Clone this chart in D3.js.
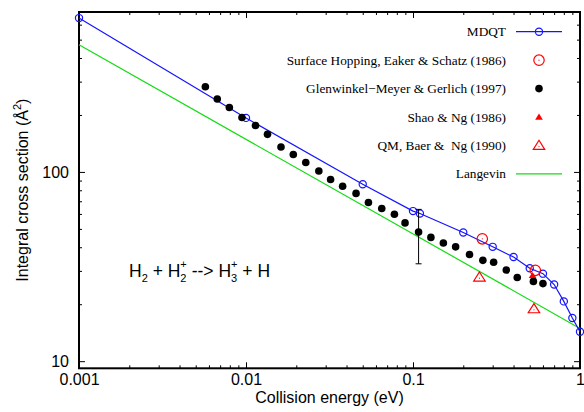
<!DOCTYPE html>
<html>
<head>
<meta charset="utf-8">
<script src="https://cdn.jsdelivr.net/npm/d3@7"></script>
<style>
  html, body { margin: 0; padding: 0; background: #fff; }
  svg { display: block; }
</style>
</head>
<body>
<svg id="chart" width="584" height="412"></svg>
<script>
// ---------- data ----------
const mdqtE     = [0.001, 0.01, 0.05, 0.1, 0.11, 0.2, 0.3, 0.4, 0.5, 0.6, 0.7, 0.8, 0.9, 1.0];
const mdqtSigma = [650, 193, 86.1, 62.1, 60.3, 47.9, 40.2, 35.5, 31.0, 29.0, 25.4, 20.7, 16.9, 14.3];

const shE     = [0.26, 0.54];
const shSigma = [44.3, 30.2];

const gmgE     = [0.00571, 0.00673, 0.00795, 0.00946, 0.0114, 0.01345, 0.0162, 0.0192, 0.0228, 0.0273,
                  0.0321, 0.0379, 0.0456, 0.0541, 0.0650, 0.0774, 0.0896, 0.108, 0.128, 0.152,
                  0.180, 0.218, 0.262, 0.304, 0.362, 0.421, 0.526, 0.600];
const gmgSigma = [282, 243, 219, 194, 176, 158, 135.5, 123.7, 112.2, 101.2,
                  91.2, 84.0, 77.0, 69.0, 64.1, 59.8, 53.8, 48.1, 45.1, 42.1,
                  40.2, 36.6, 34.1, 33.3, 30.3, 27.7, 26.4, 25.7];
// error bar on one Glenwinkel-Meyer point
const gmgErrE = [0.108];
const gmgErrLow = [32.7];
const gmgErrHigh = [63.4];

const shaoE     = [0.52];
const shaoSigma = [28.4];

const qmE     = [0.25, 0.53];
const qmSigma = [27.8, 18.9];

const langevinE     = [0.001, 1.0];
const langevinSigma = [470, 14.9];

const xDomain = [0.001, 1];
const yDomain = [9.17, 700];
const xMajorTicks = [0.001, 0.01, 0.1, 1];
const xTickLabels = ["0.001", "0.01", "0.1", "1"];
const yMajorTicks = [10, 100];
const yTickLabels = ["10", "100"];

const legendLabels = ["MDQT", "Surface Hopping, Eaker & Schatz (1986)", "Glenwinkel\u2212Meyer & Gerlich (1997)",
                      "Shao & Ng (1986)", "QM, Baer &  Ng (1990)", "Langevin"];

// ---------- layout ----------
const L = 79, R = 580, T = 12, B = 368.3;
const svg = d3.select("#chart");
const x = d3.scaleLog().domain(xDomain).range([L, R]);
const y = d3.scaleLog().domain(yDomain).range([B, T]);

const BLUE = "#1414ff", GREEN = "#14dc14", RED = "#ff0000";
const sans = "'Liberation Sans', Arial, Helvetica, sans-serif";
const serif = "'Liberation Serif', 'Times New Roman', serif";

// minor ticks
const xMinor = [];
for (let d = 0.001; d < 1; d *= 10) for (let k = 2; k <= 9; k++) xMinor.push(+(d * k).toPrecision(3));
const yMinor = [];
for (let d = 10; d < 1000; d *= 10) for (let k = 2; k <= 9; k++) { const v = d * k; if (v <= yDomain[1]) yMinor.push(v); }

function styleAxis(g) {
  g.select(".domain").remove();
  g.selectAll(".tick line").attr("stroke", "#000").attr("stroke-width", 1);
  g.selectAll("text").attr("font-family", sans).attr("font-size", 16).attr("fill", "#000");
}

const MAJ = 6, MIN = 3;
svg.append("g").attr("transform", `translate(0,${B})`)
  .call(d3.axisBottom(x).tickValues(xMajorTicks).tickFormat((d, i) => xTickLabels[i]).tickSize(-MAJ).tickPadding(5))
  .call(styleAxis);
svg.append("g").attr("transform", `translate(0,${B})`)
  .call(d3.axisBottom(x).tickValues(xMinor).tickFormat("").tickSize(-MIN)).call(styleAxis);
svg.append("g").attr("transform", `translate(0,${T})`)
  .call(d3.axisTop(x).tickValues(xMajorTicks).tickFormat("").tickSize(-MAJ)).call(styleAxis);
svg.append("g").attr("transform", `translate(0,${T})`)
  .call(d3.axisTop(x).tickValues(xMinor).tickFormat("").tickSize(-MIN)).call(styleAxis);
svg.append("g").attr("transform", `translate(${L},0)`)
  .call(d3.axisLeft(y).tickValues(yMajorTicks).tickFormat((d, i) => yTickLabels[i]).tickSize(-MAJ).tickPadding(10))
  .call(styleAxis);
svg.append("g").attr("transform", `translate(${L},0)`)
  .call(d3.axisLeft(y).tickValues(yMinor).tickFormat("").tickSize(-MIN)).call(styleAxis);
svg.append("g").attr("transform", `translate(${R},0)`)
  .call(d3.axisRight(y).tickValues(yMajorTicks).tickFormat("").tickSize(-MAJ)).call(styleAxis);
svg.append("g").attr("transform", `translate(${R},0)`)
  .call(d3.axisRight(y).tickValues(yMinor).tickFormat("").tickSize(-MIN)).call(styleAxis);

// border
svg.append("rect").attr("x", L).attr("y", T).attr("width", R - L).attr("height", B - T)
  .attr("fill", "none").attr("stroke", "#000").attr("stroke-width", 2);

// axis titles
svg.append("text").attr("x", (L + R) / 2).attr("y", 403).attr("text-anchor", "middle")
  .attr("font-family", sans).attr("font-size", 16).text("Collision energy (eV)");
const yt = svg.append("text").attr("transform", `translate(28,${(T + B) / 2}) rotate(-90)`)
  .attr("text-anchor", "middle").attr("font-family", sans).attr("font-size", 16);
yt.append("tspan").text("Integral cross section (\u00C5");
yt.append("tspan").attr("font-size", 11).attr("dy", -7).text("2");
yt.append("tspan").attr("dy", 7).text(")");

// reaction label: separate pieces so stacked scripts don't collide
const rBase = 277, rFs = 17.5, sFs = 11;
const rg = svg.append("g").attr("font-family", sans).attr("fill", "#000");
let cursor = 129;
function piece(txt, fs, yy) {
  const t = rg.append("text").attr("x", cursor).attr("y", yy).attr("font-size", fs).attr("xml:space", "preserve").text(txt);
  return t.node().getComputedTextLength();
}
function main(txt) { cursor += piece(txt, rFs, rBase); }
function sub(txt) { cursor += piece(txt, sFs, rBase + 5); }
function subsup(sb, sp) {
  const w1 = piece(sp, sFs, rBase - 9.5);
  const w2 = piece(sb, sFs, rBase + 5);
  cursor += Math.max(w1, w2);
}
main("H"); sub("2"); main(" + H"); subsup("2", "+"); main(" --> H"); subsup("3", "+"); main(" + H");

// ---------- series ----------
const line = d3.line().x(d => x(d[0])).y(d => y(d[1]));

svg.append("path").datum(langevinE.map((e, i) => [e, langevinSigma[i]]))
  .attr("d", line).attr("fill", "none").attr("stroke", GREEN).attr("stroke-width", 1.2);

const mdqt = mdqtE.map((e, i) => [e, mdqtSigma[i]]);
svg.append("path").datum(mdqt).attr("d", line).attr("fill", "none").attr("stroke", BLUE).attr("stroke-width", 1.2);
svg.selectAll(".mdqt").data(mdqt).enter().append("circle")
  .attr("cx", d => x(d[0])).attr("cy", d => y(d[1])).attr("r", 3.6)
  .attr("fill", "none").attr("stroke", BLUE).attr("stroke-width", 1.2);

gmgErrE.forEach((e, i) => {
  const cx = x(e), y1 = y(gmgErrLow[i]), y2 = y(gmgErrHigh[i]);
  svg.append("line").attr("x1", cx).attr("x2", cx).attr("y1", y1).attr("y2", y2).attr("stroke", "#000").attr("stroke-width", 1);
  [y1, y2].forEach(yy => svg.append("line").attr("x1", cx - 3).attr("x2", cx + 3).attr("y1", yy).attr("y2", yy).attr("stroke", "#000"));
});

svg.selectAll(".gmg").data(gmgE.map((e, i) => [e, gmgSigma[i]])).enter().append("circle")
  .attr("cx", d => x(d[0])).attr("cy", d => y(d[1])).attr("r", 3.8).attr("fill", "#000");

function shMarker(g, cx, cy) {
  g.append("circle").attr("cx", cx).attr("cy", cy).attr("r", 5.2).attr("fill", "none").attr("stroke", RED).attr("stroke-width", 1.2);
  g.append("circle").attr("cx", cx).attr("cy", cy).attr("r", 0.6).attr("fill", RED);
}
shE.forEach((e, i) => shMarker(svg, x(e), y(shSigma[i])));

const triPath = (cx, cy, s) => `M${cx},${cy - s}L${cx + s * 1.1},${cy + s * 0.75}L${cx - s * 1.1},${cy + s * 0.75}Z`;
shaoE.forEach((e, i) => svg.append("path").attr("d", triPath(x(e), y(shaoSigma[i]), 3.5)).attr("fill", RED));

function qmMarker(g, cx, cy) {
  g.append("path").attr("d", triPath(cx, cy, 5.2)).attr("fill", "none").attr("stroke", RED).attr("stroke-width", 1.2);
  g.append("circle").attr("cx", cx).attr("cy", cy + 1).attr("r", 0.6).attr("fill", RED);
}
qmE.forEach((e, i) => qmMarker(svg, x(e), y(qmSigma[i])));

// ---------- legend ----------
const legY0 = 31.7, legDy = 28.45, legTextX = 506, legMid = 539, legL = 516, legRt = 562;
legendLabels.forEach((lab, i) => {
  const yy = legY0 + i * legDy;
  svg.append("text").attr("x", legTextX).attr("y", yy + 4.5).attr("text-anchor", "end").attr("xml:space", "preserve")
    .attr("font-family", serif).attr("font-size", 13.3).attr("fill", "#000").text(lab);
  if (i === 0) {
    svg.append("line").attr("x1", legL).attr("x2", legRt).attr("y1", yy).attr("y2", yy).attr("stroke", BLUE).attr("stroke-width", 1.2);
    svg.append("circle").attr("cx", legMid).attr("cy", yy).attr("r", 3.6).attr("fill", "none").attr("stroke", BLUE).attr("stroke-width", 1.2);
  } else if (i === 1) {
    shMarker(svg, legMid, yy);
  } else if (i === 2) {
    svg.append("circle").attr("cx", legMid).attr("cy", yy).attr("r", 3.8).attr("fill", "#000");
  } else if (i === 3) {
    svg.append("path").attr("d", triPath(legMid, yy, 3.5)).attr("fill", RED);
  } else if (i === 4) {
    qmMarker(svg, legMid, yy);
  } else {
    svg.append("line").attr("x1", legL).attr("x2", legRt).attr("y1", yy).attr("y2", yy).attr("stroke", GREEN).attr("stroke-width", 1.2);
  }
});
</script>
</body>
</html>
